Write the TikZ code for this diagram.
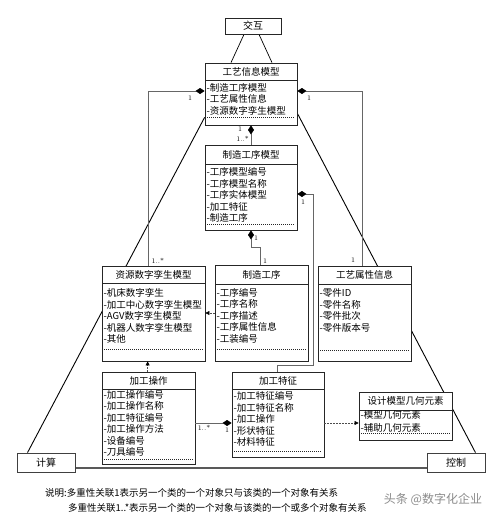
\documentclass[tikz,border=0pt]{standalone}
\usepackage{fontspec}
\newfontfamily\cjk{Noto Sans CJK SC}
\usetikzlibrary{arrows.meta,fit}
\pgfdeclarelayer{bottom}
\pgfdeclarelayer{lines}
\pgfsetlayers{bottom,lines,main}
\tikzset{
 clsbox/.style={draw=black!85, line width=0.8pt, fill=white, inner sep=0pt},
 ttl/.style={font=\cjk\fontsize{9.5}{11.5}\selectfont, inner sep=0pt},
 itm/.style={font=\cjk\fontsize{9.5}{11.5}\selectfont, inner sep=0pt, align=left, anchor=north west},
 divline/.style={draw=black!85, line width=0.6pt},
 dotline/.style={draw=black!85, line width=0.6pt, dash pattern=on 1pt off 1pt},
 compo/.style={draw=black!60, line width=0.5pt, {Diamond[length=9pt,width=6pt,color=black]}-},
 dep/.style={draw=black!70, line width=0.5pt, dash pattern=on 1.5pt off 1.5pt, -{Triangle[length=4pt,width=4pt,color=black]}},
 tri/.style={draw=black, line width=0.9pt},
 mult/.style={font=\fontsize{7}{8}\selectfont, inner sep=0.5pt},
 foot/.style={font=\cjk\fontsize{9.5}{11}\selectfont, inner sep=0pt, anchor=west},
 endbox/.style={draw=black!75, line width=0.9pt, fill=white, minimum width=58pt, minimum height=19pt, inner sep=0pt, font=\cjk\fontsize{10}{12}\selectfont},
}
% name, x1, y1, x2, y2, ydiv, ydot, title
\newcommand\umlcls[8]{%
  \node[clsbox, fit={(#2,#3) (#4,#5)}] (#1) {};
  \node[ttl] (#1-t) at ({(#2+#4)/2},{(#3+#6)/2}) {#8};
  \draw[divline] (#2,#6) -- (#4,#6);
  \draw[dotline] ({#2+2},#7) -- ({#4-2},#7);
}
\begin{document}
\begin{tikzpicture}[x=1pt,y=-1pt]
\begin{pgfonlayer}{bottom}
\fill[white] (0,0) rectangle (496,515);
\end{pgfonlayer}
\useasboundingbox (0,0) rectangle (496,515);

% boxes
\node[clsbox, minimum width=56pt, minimum height=16pt, font=\cjk\fontsize{10}{12}\selectfont] (jh) at (253,26) {交互};

\umlcls{gyxx}{205}{63}{297}{125}{80}{117}{工艺信息模型}
\node[itm] (gyxx-i) at (206.5,83.2) {-制造工序模型\\-工艺属性信息\\-资源数字孪生模型};

\umlcls{zxgxmx}{205}{145}{297}{230}{164}{224}{制造工序模型}
\node[itm] (zxgxmx-i) at (206.5,167.5) {-工序模型编号\\-工序模型名称\\-工序实体模型\\-加工特征\\-制造工序};

\umlcls{res}{102}{266}{205}{361}{283}{349}{资源数字孪生模型}
\node[itm] (res-i) at (103.5,288.2) {-机床数字孪生\\-加工中心数字孪生模型\\-AGV数字孪生模型\\-机器人数字孪生模型\\-其他};

\umlcls{zxgx}{215}{265}{308}{361}{284}{349}{制造工序}
\node[itm] (zxgx-i) at (216.5,287.8) {-工序编号\\-工序名称\\-工序描述\\-工序属性信息\\-工装编号};

\umlcls{gysx}{318}{266}{411}{361}{284}{350}{工艺属性信息}
\node[itm] (gysx-i) at (319.5,288.5) {-零件ID\\-零件名称\\-零件批次\\-零件版本号};

\umlcls{jgcz}{102}{372}{195}{464}{389}{459}{加工操作}
\node[itm] (jgcz-i) at (103.5,389.8) {-加工操作编号\\-加工操作名称\\-加工特征编号\\-加工操作方法\\-设备编号\\-刀具编号};

\umlcls{jgtz}{232}{372}{324}{457}{389}{451}{加工特征}
\node[itm] (jgtz-i) at (233.5,391.5) {-加工特征编号\\-加工特征名称\\-加工操作\\-形状特征\\-材料特征};

\umlcls{sjmx}{359}{392}{452}{440}{410}{433}{设计模型几何元素}
\node[itm, font=\cjk\fontsize{9.5}{13}\selectfont] (sjmx-i) at (360.5,410.5) {-模型几何元素\\-辅助几何元素};

\node[endbox] (js) at (46,462.5) {计算};
\node[endbox] (kz) at (456,462.5) {控制};

% lines behind boxes
\begin{pgfonlayer}{lines}
\draw[tri, line width=0.7pt] ([xshift=-9pt]jh.south) -- ([xshift=-20pt]gyxx.north);
\draw[tri, line width=0.7pt] ([xshift=6pt]jh.south) -- ([xshift=21pt]gyxx.north);
\draw[tri] ([yshift=8pt]gyxx.south west) -- ([xshift=11pt]js.north west);
\draw[tri] ([yshift=12pt]gyxx.south east) -- ([xshift=-10pt]kz.north east);
\draw[draw=black!65, line width=1.6pt] ([yshift=-5.5pt]js.east) -- ([yshift=-5.5pt]kz.west);
\end{pgfonlayer}

% compositions
\draw[compo] ([yshift=3pt]gyxx.west) -| ([xshift=47pt]res.north west);
\node[mult] (m1) at (190,98) {1};
\node[mult, anchor=west] (m2) at (151,261) {1..*};

\draw[compo] ([yshift=3pt]gyxx.east) -| ([xshift=45pt]gysx.north west);
\node[mult] (m3) at (309,98) {1};
\node[mult] (m4) at (353,260) {1};

\draw[compo] (gyxx.south) -- (zxgxmx.north);
\node[mult] (m5) at (240,129) {1};
\node[mult, anchor=east] (m6) at (249.5,139) {1..*};

\coordinate (k1) at (313,365);
\draw[compo] ([yshift=-6.5pt]zxgxmx.east) -| (k1) -| ([xshift=46pt]jgtz.north west);
\node[mult] (m7) at (303,202) {1};

\coordinate (k2) at (251,247);
\draw[compo] (zxgxmx.south) -- (k2) -| ([xshift=46pt]zxgx.north west);
\node[mult] (m8) at (256,238) {1};
\node[mult] (m9) at (265,261) {1};

\draw[compo] ([yshift=-8.5pt]jgtz.west) -- ([yshift=-8.5pt]jgtz.west -| jgcz.east);
\node[mult] (m10) at (204,428) {1..*};
\node[mult] (m11) at (227,430) {1};

% dependencies
\draw[dep] (zxgx.west) -- (zxgx.west -| res.east);
\draw[dep] ([xshift=46pt]jgcz.north west) -- ([xshift=46pt]res.south west);
\draw[dep] ([yshift=-8.5pt]jgtz.east) -- ([yshift=-8.5pt]jgtz.east -| sjmx.west);

% footer
\node[foot] (f1) at (45,493) {说明:多重性关联1表示另一个类的一个对象只与该类的一个对象有关系};
\node[foot] (f2) at (68,508) {多重性关联1..*表示另一个类的一个对象与该类的一个或多个对象有关系};
\node[font=\cjk\fontsize{12}{14}\selectfont, text=black!45, inner sep=0pt] (wm) at (433,499) {头条 @数字化企业};
\end{tikzpicture}
\end{document}
